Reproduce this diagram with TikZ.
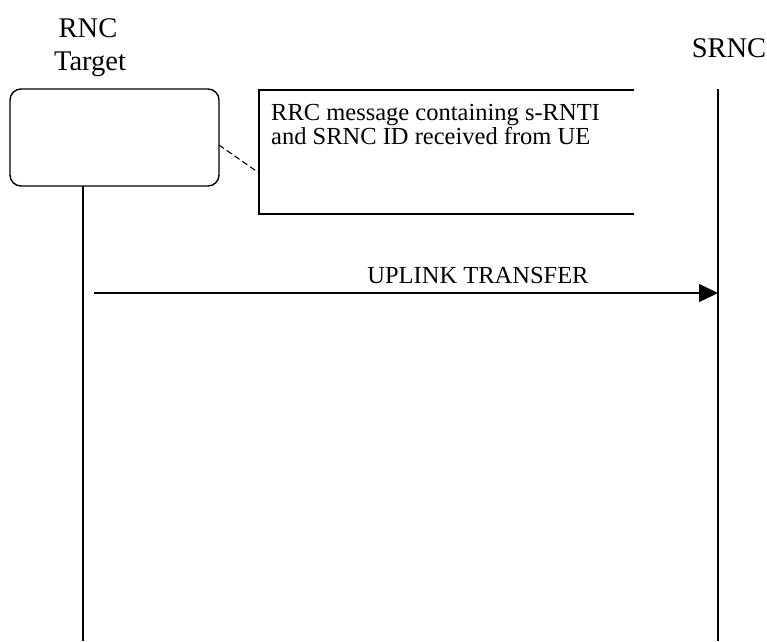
\documentclass[tikz,border=0pt]{standalone}
\usepackage{fontspec}
\setmainfont{Liberation Serif}
\usetikzlibrary{arrows.meta}
\tikzset{
  lbl/.style={inner sep=0pt, anchor=base, font=\fontsize{28.5}{32}\selectfont},
  msg/.style={inner sep=0pt, anchor=base west, font=\fontsize{24.5}{28}\selectfont},
  life/.style={line width=1.4pt},
  box/.style={line width=1.4pt},
  msgarrow/.style={line width=1.4pt, -{Triangle[length=19pt,width=18pt]}},
}
\begin{document}
\begin{tikzpicture}[x=1pt,y=-1pt]
\useasboundingbox (0,0) rectangle (767,641);
% titles
\node[lbl] (rnc) at (88,37) {RNC};
\node[lbl] (target) at (90,70) {Target};
\node[lbl] (srnc) at (729,57) {SRNC};
% rounded box
\draw[box, rounded corners=11pt] (10,89) rectangle (219,186);
\coordinate (boxbot) at (83,186);
\coordinate (boxr) at (219,145);
% lifelines
\coordinate (lend) at (83,641);
\coordinate (rtop) at (718,89);
\coordinate (rend) at (718,641);
\draw[life] (boxbot) -- (lend);
\draw[life] (rtop) -- (rend);
% note box (open on right)
\coordinate (ntr) at (634,90);
\coordinate (ntl) at (259,90);
\coordinate (nbl) at (259,214);
\coordinate (nbr) at (634,214);
\coordinate (nleft) at (259,173);
\draw[box] (ntr) -- (ntl) -- (nbl) -- (nbr);
\draw[line width=1.1pt, dash pattern=on 6pt off 3.5pt] (boxr) -- (nleft);
\node[msg] (t1) at (271,120) {RRC message containing s-RNTI};
\node[msg] (t2) at (271,144) {and SRNC ID received from UE};
% message
\coordinate (afrom) at (94,293);
\coordinate (ato) at (718,293);
\draw[msgarrow] (afrom) -- (ato);
\node[msg, anchor=base] (ul) at (478,283) {UPLINK TRANSFER};
\end{tikzpicture}
\end{document}
